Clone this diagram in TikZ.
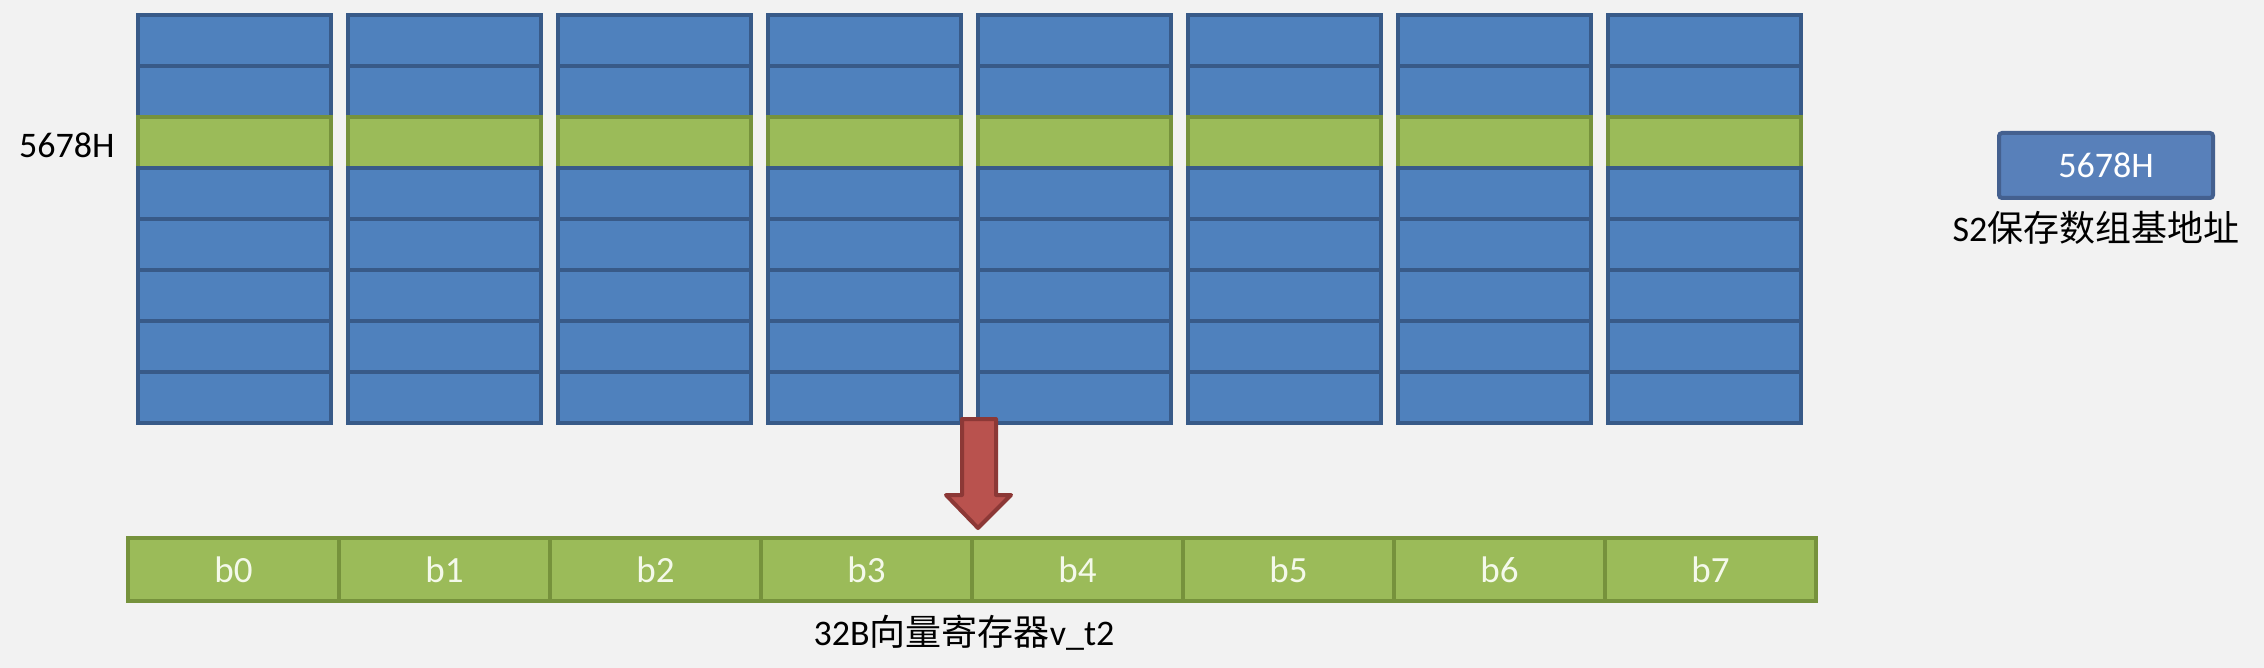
\documentclass[tikz,border=0pt]{standalone}
\usepackage{fontspec}
\setmainfont{Carlito}
\newfontfamily\cjk{Noto Sans CJK SC}
\definecolor{bgc}{HTML}{F2F2F2}
\definecolor{bluefill}{HTML}{4F81BD}
\definecolor{blueline}{HTML}{385A88}
\definecolor{greenfill}{HTML}{9BBB59}
\definecolor{greenline}{HTML}{76923C}
\definecolor{redfill}{HTML}{B9524E}
\definecolor{redline}{HTML}{8C3836}
\definecolor{boxfill}{HTML}{5880BA}
\definecolor{boxline}{HTML}{44608F}
\definecolor{celltext}{HTML}{F4F9EA}
\begin{document}
\begin{tikzpicture}[x=1pt,y=-1pt,
  bluecell/.style={rectangle,draw=blueline,fill=bluefill,line width=4pt,minimum width=193pt,minimum height=51pt,inner sep=0pt,outer sep=0pt},
  greencell/.style={rectangle,draw=greenline,fill=greenfill,line width=4pt,minimum width=193pt,minimum height=51pt,inner sep=0pt,outer sep=0pt},
  regcell/.style={rectangle,draw=greenline,fill=greenfill,line width=4.5pt,minimum width=211pt,minimum height=63pt,inner sep=0pt,outer sep=0pt,text=celltext,font=\fontsize{37}{40}\selectfont},
  basebox/.style={rectangle,rounded corners=3pt,draw=boxline,fill=boxfill,line width=4pt,minimum width=214pt,minimum height=65pt,inner sep=0pt,text=white,font=\fontsize{36}{40}\selectfont},
  lbl/.style={inner sep=0pt,text=black,font=\fontsize{36}{40}\selectfont},
  blockarrow/.style={draw=redline,fill=redfill,line width=4pt,line join=round}]
\fill[bgc] (0,0) rectangle (2264,668);
\useasboundingbox (0,0) rectangle (2264,668);
% memory columns
\foreach \c in {0,...,7} {
  \foreach \r in {0,...,7} {
    \pgfmathsetmacro\cx{234.5+210*\c}
    \pgfmathsetmacro\cy{40.5+51*\r}
    \ifnum\r=2
      \node[greencell] (m\c-\r) at (\cx,\cy) {};
    \else
      \node[bluecell] (m\c-\r) at (\cx,\cy) {};
    \fi
  }
}
% left address label
\node[lbl,anchor=base west] (addr) at (19,158) {5678H};
% base register box
\node[basebox] (s2box) at (2106,165.5) {5678H};
\node[lbl,anchor=base] (s2lbl) at (2096,242) {S2{\cjk 保存数组基地址}};
% block arrow
\filldraw[blockarrow] (962,419) -- (996,419) -- (996,495) -- (1011,495) -- (978,528) -- (946,495) -- (962,495) -- cycle;
% vector register
\foreach \i in {0,...,7} {
  \pgfmathsetmacro\bx{233.5+211*\i}
  \node[regcell] (b\i) at (\bx,569.5) {b\i};
}
\node[lbl,anchor=base,font=\fontsize{36}{40}\selectfont] (vlbl) at (964,645) {32B{\cjk 向量寄存器}v\_t2};
\end{tikzpicture}
\end{document}
